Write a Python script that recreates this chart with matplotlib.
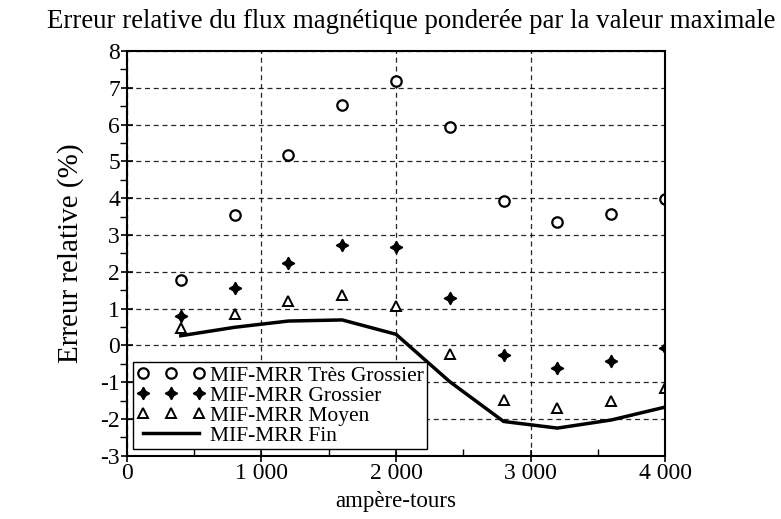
import matplotlib
matplotlib.use("Agg")
import matplotlib.pyplot as plt
from matplotlib.ticker import MultipleLocator, FuncFormatter

plt.rcParams['font.family'] = ['Liberation Serif', 'DejaVu Serif']
plt.rcParams['axes.unicode_minus'] = False

# ampère-tours
courant = [400, 800, 1200, 1600, 2000, 2400, 2800, 3200, 3600, 4000]

# erreur relative (%) par maillage
tres_grossier = [1.78, 3.53, 5.16, 6.54, 7.19, 5.94, 3.92, 3.35, 3.56, 3.97]
grossier = [0.80, 1.56, 2.25, 2.73, 2.67, 1.28, -0.25, -0.61, -0.43, -0.06]
moyen = [0.46, 0.85, 1.21, 1.36, 1.07, -0.23, -1.48, -1.70, -1.50, -1.16]
fin = [0.26, 0.49, 0.66, 0.69, 0.30, -0.99, -2.07, -2.25, -2.03, -1.68]

fig = plt.figure(figsize=(7.81, 5.19), dpi=100)
ax = fig.add_axes([0.1626, 0.122, 0.6889, 0.7797])

ax.plot(courant, tres_grossier, linestyle='none', marker='o', markersize=7.5,
        markerfacecolor='white', markeredgecolor='black', markeredgewidth=1.6,
        label='MIF-MRR Très Grossier')
ax.plot(courant, grossier, linestyle='none', marker=(4, 1, 0), markersize=9,
        color='black', label='MIF-MRR Grossier')
ax.plot(courant, moyen, linestyle='none', marker='^', markersize=6.5,
        markerfacecolor='white', markeredgecolor='black', markeredgewidth=1.4,
        label='MIF-MRR Moyen')
ax.plot(courant, fin, color='black', linewidth=2.5, label='MIF-MRR Fin')

ax.set_xlim(0, 4000)
ax.set_ylim(-3, 8)
ax.xaxis.set_major_locator(MultipleLocator(1000))
ax.xaxis.set_minor_locator(MultipleLocator(500))
ax.yaxis.set_major_locator(MultipleLocator(1))
ax.yaxis.set_minor_locator(MultipleLocator(0.5))
ax.xaxis.set_major_formatter(FuncFormatter(lambda v, p: f"{int(v):,}".replace(',', ' ')))

ax.tick_params(axis='both', which='major', direction='inout', length=8,
               width=1.2, labelsize=17, pad=1)
ax.tick_params(axis='x', which='minor', direction='in', length=5, width=1)
ax.tick_params(axis='y', which='minor', direction='out', length=5, width=1)

ax.grid(True, which='major', linestyle=(0, (4, 3)), color='black',
        linewidth=0.9, alpha=0.85)
for s in ax.spines.values():
    s.set_linewidth(1.5)

ax.set_xlabel('ampère-tours', fontsize=16.5, labelpad=5)
ax.set_ylabel('Erreur relative (%)', fontsize=21, labelpad=12)
fig.text(0.527, 0.958, 'Erreur relative du flux magnétique ponderée par la valeur maximale',
         ha='center', va='center', fontsize=19.4)

leg = ax.legend(loc='lower left', numpoints=3, fontsize=15.5, frameon=True,
                fancybox=False, edgecolor='black', framealpha=1,
                borderaxespad=0.3, borderpad=0.15, labelspacing=0.0,
                handlelength=3.2, handletextpad=0.2)
leg.get_frame().set_linewidth(1.0)

fig.savefig('out.png', dpi=100)
